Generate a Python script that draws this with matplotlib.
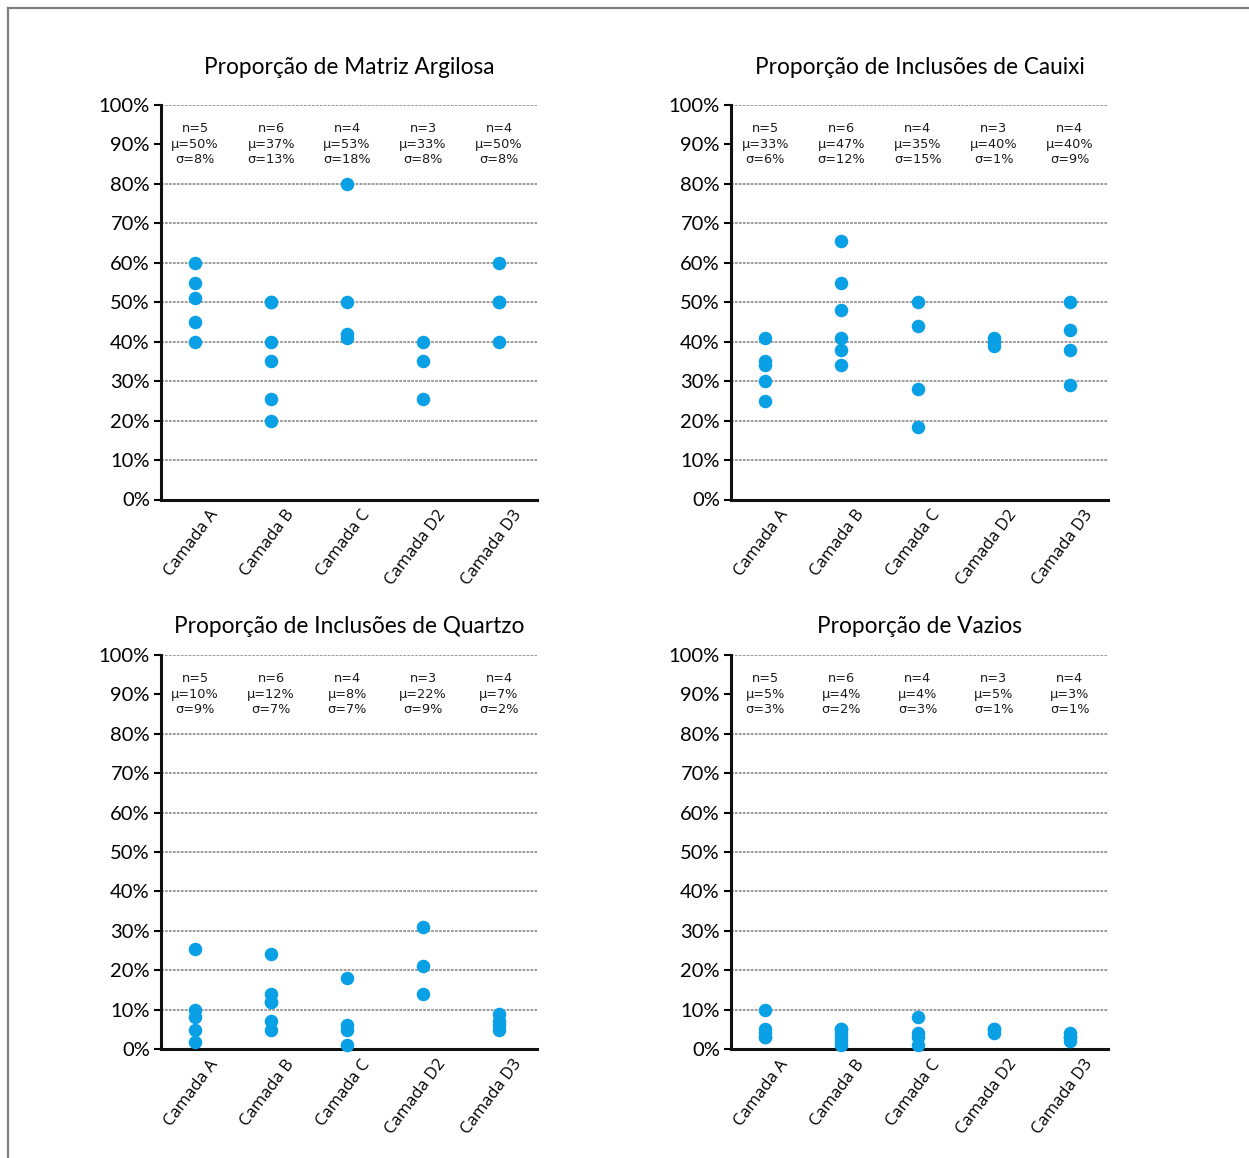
import matplotlib
matplotlib.use("Agg")
import matplotlib.pyplot as plt
from matplotlib.lines import Line2D
from matplotlib.transforms import ScaledTranslation

# Layers (camadas) along the x axis
camadas = ["Camada A", "Camada B", "Camada C", "Camada D2", "Camada D3"]

# Proportion (%) measured in each sample, one list per layer
matriz = [[60, 55, 51, 45, 40],
          [50, 50, 40, 35, 25.5, 20],
          [80, 50, 42, 41],
          [40, 35, 25.5],
          [60, 50, 50, 40]]
cauixi = [[41, 35, 34, 30, 25],
          [65.5, 55, 48, 41, 38, 34],
          [50, 44, 28, 18.5],
          [41, 40, 39],
          [50, 43, 38, 29]]
quartzo = [[25.5, 10, 8, 4.7, 1.7],
           [24, 14, 12, 12, 7, 4.7],
           [18, 6, 4.7, 1],
           [31, 21, 14],
           [9, 7, 6, 4.8]]
vazios = [[10, 5, 4, 3, 3],
          [5.2, 5, 4, 3, 2, 1],
          [8, 4, 3, 1],
          [5.2, 5, 4],
          [4, 3, 3, 2]]

# Sample size, mean and standard deviation printed above each layer
n_matriz = [5, 6, 4, 3, 4]
mu_matriz = [50, 37, 53, 33, 50]
sd_matriz = [8, 13, 18, 8, 8]
n_cauixi = [5, 6, 4, 3, 4]
mu_cauixi = [33, 47, 35, 40, 40]
sd_cauixi = [6, 12, 15, 1, 9]
n_quartzo = [5, 6, 4, 3, 4]
mu_quartzo = [10, 12, 8, 22, 7]
sd_quartzo = [9, 7, 7, 9, 2]
n_vazios = [5, 6, 4, 3, 4]
mu_vazios = [5, 4, 4, 5, 3]
sd_vazios = [3, 2, 3, 1, 1]

titulos = ["Proporção de Matriz Argilosa", "Proporção de Inclusões de Cauixi",
           "Proporção de Inclusões de Quartzo", "Proporção de Vazios"]

W, H = 1249, 1158
fig = plt.figure(figsize=(W / 100, H / 100), dpi=100)
fig.patch.set_facecolor("white")

# axes boxes in pixels: left, top, right, bottom, title pad
boxes = [(161, 105, 537, 499.5, 22), (731, 105, 1108, 499.5, 22),
         (161, 655, 537, 1049, 16), (731, 655, 1108, 1049, 16)]

paineis = [(matriz, n_matriz, mu_matriz, sd_matriz),
           (cauixi, n_cauixi, mu_cauixi, sd_cauixi),
           (quartzo, n_quartzo, mu_quartzo, sd_quartzo),
           (vazios, n_vazios, mu_vazios, sd_vazios)]

azul = "#0aa0e6"
grade = [10, 20, 30, 40, 50, 60, 70, 80, 100]  # no line behind the stats row

for (l, t, r, b, tpad), titulo, (dados, ns, mus, sds) in zip(boxes, titulos, paineis):
    ax = fig.add_axes([l / W, 1 - b / H, (r - l) / W, (b - t) / H])
    ax.set_xlim(-0.45, 4.5)
    ax.set_ylim(0, 100)

    for y in grade:
        ax.axhline(y, color="#939393", linestyle=(0, (1.5, 0.7)), linewidth=1.3,
                   zorder=1)

    for i, vals in enumerate(dados):
        ax.scatter([i] * len(vals), vals, s=95, color=azul, zorder=3,
                   linewidths=0, clip_on=False)
        ax.text(i, 90, "n=%d\nμ=%d%%\nσ=%d%%" % (ns[i], mus[i], sds[i]),
                ha="center", va="center", fontsize=9.3, linespacing=1.25,
                family=["DejaVu Sans"], color="#1a1a1a")

    ax.set_yticks(range(0, 101, 10))
    ax.set_yticklabels(["%d%%" % v for v in range(0, 101, 10)],
                       family=["Lato", "DejaVu Sans"], fontsize=14.5)
    ax.tick_params(axis="y", length=5, width=1.5, pad=3, colors="black")

    ax.set_xticks(range(len(camadas)))
    ax.set_xticklabels(camadas, rotation=53, ha="right", va="center",
                       rotation_mode="anchor", family=["Open Sans", "DejaVu Sans"],
                       fontsize=12)
    ax.tick_params(axis="x", length=0, pad=9)
    for lab in ax.get_xticklabels():
        lab.set_transform(lab.get_transform() +
                          ScaledTranslation(0.2, 0, fig.dpi_scale_trans))

    for side in ("top", "right"):
        ax.spines[side].set_visible(False)
    for side in ("left", "bottom"):
        ax.spines[side].set_linewidth(2.2)
        ax.spines[side].set_color("#111111")

    ax.set_title(titulo, family=["Lato", "DejaVu Sans"], fontsize=16.3, pad=tpad)

# partial frame around the figure
fig.add_artist(Line2D([8 / W, 1], [1 - 8 / H, 1 - 8 / H], transform=fig.transFigure,
                      color="#7f7f7f", linewidth=1.6))
fig.add_artist(Line2D([8 / W, 8 / W], [0, 1 - 8 / H], transform=fig.transFigure,
                      color="#7f7f7f", linewidth=1.6))

fig.savefig("out.png", dpi=100)
